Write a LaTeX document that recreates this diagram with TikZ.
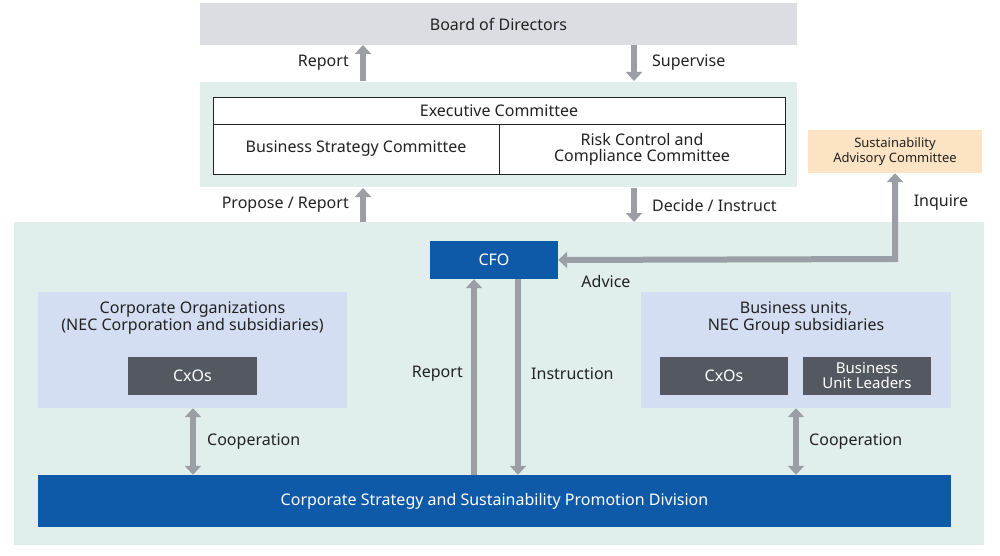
\documentclass[tikz,border=0pt]{standalone}
\usepackage{fontspec}
\setmainfont{Noto Sans}
\usetikzlibrary{arrows.meta}
\definecolor{grayb}{HTML}{DCDDE2}
\definecolor{teal}{HTML}{E0EEEC}
\definecolor{peach}{HTML}{FCE3C3}
\definecolor{blueb}{HTML}{0F5AA8}
\definecolor{lblue}{HTML}{D4DEF2}
\definecolor{dgray}{HTML}{545861}
\definecolor{arr}{HTML}{9B9EA5}
\definecolor{txt}{HTML}{222222}
\begin{document}
\begin{tikzpicture}[x=1pt,y=-1pt,
  box/.style={inner sep=0pt,align=center,text=txt,font=\fontsize{16}{18}\selectfont},
  arw/.style={draw=arr,line width=6pt,-{Triangle[width=16pt,length=9pt]}},
  darw/.style={draw=arr,line width=6pt,{Triangle[width=16pt,length=9pt]}-{Triangle[width=16pt,length=9pt]}},
  lab/.style={text=txt,font=\fontsize{16}{18}\selectfont,inner sep=0pt}]
\useasboundingbox (0,0) rectangle (1000,556);
\fill[white] (0,0) rectangle (1000,556);
% regions
\fill[teal] (200,82) rectangle (797,187);
\fill[teal] (14,222) rectangle (984,545);
\node[box,fill=grayb,minimum width=597pt,minimum height=42pt] (bod) at (498.5,24) {Board of Directors};
\node[box,fill=white,draw=txt,line width=0.6pt,minimum width=572pt,minimum height=27pt] (ec) at (499,110.5) {Executive Committee};
\node[box,fill=white,draw=txt,line width=0.6pt,minimum width=286pt,minimum height=50pt] (bsc) at (356,149) {Business Strategy Committee};
\node[box,fill=white,draw=txt,line width=0.6pt,minimum width=286pt,minimum height=50pt] (rcc) at (642,149) {Risk Control and\\[-2pt]Compliance Committee};
\node[box,fill=peach,minimum width=174pt,minimum height=43pt,font=\fontsize{13}{15}\selectfont] (sac) at (895,151.5) {Sustainability\\Advisory Committee};
\node[box,fill=blueb,text=white,minimum width=128pt,minimum height=38pt] (cfo) at (494,260) {CFO};
\node[box,fill=lblue,minimum width=309pt,minimum height=116pt] (co) at (192.5,350) {};
\node[box,anchor=north] (cot) at (192.5,302) {Corporate Organizations\\[-1pt](NEC Corporation and subsidiaries)};
\node[box,fill=dgray,text=white,minimum width=129pt,minimum height=38pt] (cx1) at (192.5,376) {CxOs};
\node[box,fill=lblue,minimum width=310pt,minimum height=116pt] (bu) at (796,350) {};
\node[box,anchor=north] (but) at (796,302) {Business units,\\[-1pt]NEC Group subsidiaries};
\node[box,fill=dgray,text=white,minimum width=128pt,minimum height=38pt] (cx2) at (724,376) {CxOs};
\node[box,fill=dgray,text=white,minimum width=128pt,minimum height=38pt,font=\fontsize{15}{15}\selectfont] (bul) at (867,376) {Business\\Unit Leaders};
\node[box,fill=blueb,text=white,minimum width=913pt,minimum height=52pt] (cs) at (494.5,501) {Corporate Strategy and Sustainability Promotion Division};
% arrows
\coordinate (a1) at (363,81); \coordinate (a2) at (363,45);
\draw[arw] (a1) -- (a2);
\node[lab,anchor=east] (l1) at (349,63) {Report};
\coordinate (b1) at (634,45); \coordinate (b2) at (634,81);
\draw[arw] (b1) -- (b2);
\node[lab,anchor=west] (l2) at (652,63) {Supervise};
\coordinate (c1) at (363,222); \coordinate (c2) at (363,188);
\draw[arw] (c1) -- (c2);
\node[lab,anchor=east] (l3) at (349,205) {Propose / Report};
\coordinate (d1) at (634,188); \coordinate (d2) at (634,222);
\draw[arw] (d1) -- (d2);
\node[lab,anchor=west] (l4) at (652,205) {Decide / Instruct};
\coordinate (e1) at (895,259);
\draw[darw] (cfo.east) -- (e1) -- (sac.south);
\node[lab] (l5) at (606,281) {Advice};
\node[lab] (l6) at (941,203) {Inquire};
\coordinate (r1) at (474,0); \coordinate (r2) at (518,0);
\coordinate (k1) at (193,0); \coordinate (k2) at (796,0);
\draw[arw] (r1 |- cs.north) -- (r1 |- cfo.south);
\draw[arw] (r2 |- cfo.south) -- (r2 |- cs.north);
\node[lab,anchor=east] (l7) at (463,374) {Report};
\node[lab,anchor=west] (l8) at (531,374) {Instruction};
\draw[darw] (k1 |- co.south) -- (k1 |- cs.north);
\draw[darw] (k2 |- bu.south) -- (k2 |- cs.north);
\node[lab,anchor=west] (l9) at (207,442) {Cooperation};
\node[lab,anchor=west] (l10) at (809,442) {Cooperation};
\end{tikzpicture}
\end{document}
